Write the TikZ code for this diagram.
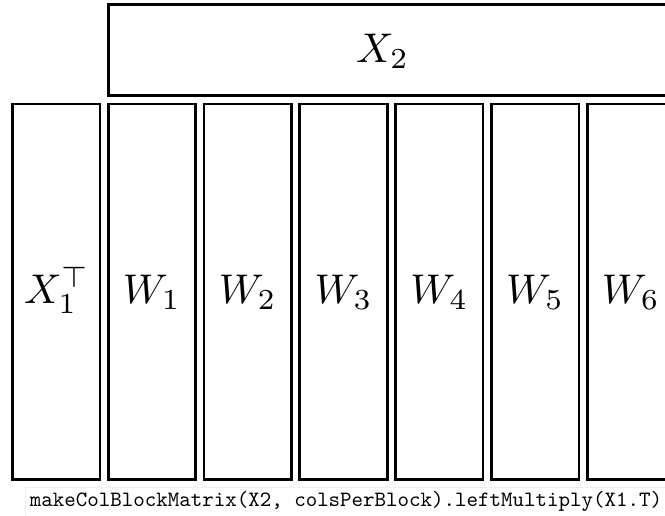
\documentclass[tikz,border=0pt]{standalone}
\usepackage{graphicx}
\usepackage{amsmath}
\newcommand{\blklabel}[1]{\scalebox{4.15}{$#1$}}
\begin{document}
\begin{tikzpicture}[x=1pt,y=-1pt,
  blk/.style={draw=black, line width=2.7pt, minimum width=87.5pt, minimum height=375.7pt, inner sep=0pt, outer sep=0pt},
  topblk/.style={draw=black, line width=2.7pt, minimum width=566.2pt, minimum height=91pt, inner sep=0pt, outer sep=0pt},
  lbl/.style={anchor=base, inner sep=0pt},
  captext/.style={anchor=base, inner sep=0pt, font=\ttfamily}]
\useasboundingbox (0,0) rectangle (665,515);
\clip (0,0) rectangle (665,515);
\fill[white] (0,0) rectangle (665,515);
% top block X2
\node[topblk] (x2box) at (391.75,50.3) {};
\node[lbl] (x2) at (382.5,62) {\blklabel{X_2}};
% column blocks
\node[blk] (x1box) at (56.1,291.85) {};
\node[blk] (w1box) at (151.9,291.85) {};
\node[blk] (w2box) at (247.7,291.85) {};
\node[blk] (w3box) at (343.5,291.85) {};
\node[blk] (w4box) at (439.3,291.85) {};
\node[blk] (w5box) at (535.1,291.85) {};
\node[blk] (w6box) at (630.9,291.85) {};
\node[lbl] (x1) at (57,303) {\blklabel{X_1^{\top}}};
\node[lbl] (w1) at (151.9,303) {\blklabel{W_1}};
\node[lbl] (w2) at (247.7,303) {\blklabel{W_2}};
\node[lbl] (w3) at (343.5,303) {\blklabel{W_3}};
\node[lbl] (w4) at (439.3,303) {\blklabel{W_4}};
\node[lbl] (w5) at (535.1,303) {\blklabel{W_5}};
\node[lbl] (w6) at (630.9,303) {\blklabel{W_6}};
% caption
\draw[black!7, line width=0.8pt] (25,520) -- (25,487.5) -- (670,487.5);
\node[captext] (caption) at (346,506.5) {\scalebox{2.19}{makeColBlockMatrix(X2, colsPerBlock).leftMultiply(X1.T)}};
\end{tikzpicture}
\end{document}
